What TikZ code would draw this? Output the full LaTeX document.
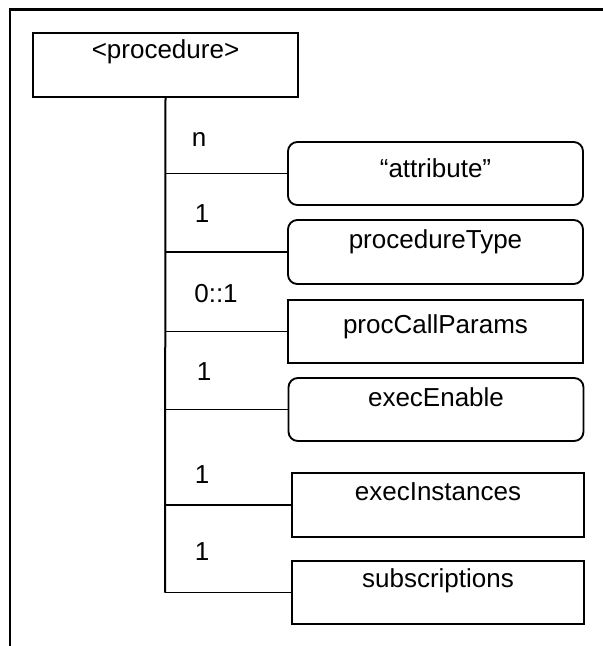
\documentclass[tikz,border=0pt]{standalone}
\usepackage{fontspec}
\setmainfont{Liberation Sans}
\begin{document}
\begin{tikzpicture}[x=0.75pt,y=-0.75pt,
  every node/.style={font=\fontsize{19.5}{23}\selectfont},
  box/.style={draw, line width=1.4pt, inner sep=0pt, minimum width=#1*0.75pt},
  box/.default=295,
  rbox/.style={box, rounded corners=7pt},
  boxtext/.style={anchor=base, inner sep=0pt},
  card/.style={inner sep=0pt, anchor=base},
  conn/.style={line width=1.1pt},
  trunkline/.style={line width=1.5pt},
  frameline/.style={line width=1.6pt}]
\useasboundingbox (0,0) rectangle (603,646);
% outer frame (partial)
\coordinate (fTL) at (10,9.5);
\coordinate (fTR) at (603,9.5);
\coordinate (fBL) at (10,646);
\draw[frameline] (fTR) -- (fTL) -- (fBL);
% boxes
\node[box=265, minimum height=64*0.75pt] (proc) at (165.5,65) {};
\node[boxtext] at (165.5,58) {<procedure>};
\node[rbox, minimum height=63*0.75pt] (att) at (435.5,173.5) {};
\node[boxtext] at (435.5,177) {“attribute”};
\node[rbox, minimum height=64*0.75pt] (ptype) at (435.5,252) {};
\node[boxtext] at (435.5,248) {procedureType};
\node[box, minimum height=63*0.75pt] (pcp) at (435.5,331.5) {};
\node[boxtext] at (435.5,333) {procCallParams};
\node[rbox=296, minimum height=63*0.75pt] (ee) at (436,409.5) {};
\node[boxtext] at (436,406) {execEnable};
\node[box=292, minimum height=64*0.75pt] (ei) at (438,505) {};
\node[boxtext] at (438,500) {execInstances};
\node[box=292, minimum height=63*0.75pt] (sub) at (438,592.5) {};
\node[boxtext] at (438,587) {subscriptions};
% trunk
\coordinate (tend) at (165,592.5);
\draw[trunkline] (proc.south) -- (tend);
% branches
\draw[conn] (proc.south |- att.west) -- (att.west);
\draw[conn] (proc.south |- ptype.west) -- (ptype.west);
\draw[conn] (proc.south |- pcp.west) -- (pcp.west);
\draw[conn] (proc.south |- ee.west) -- (ee.west);
\draw[conn] (proc.south |- ei.west) -- (ei.west);
\draw[conn] (tend) -- (sub.west);
% cardinalities
\node[card] (c1) at (199,146) {n};
\node[card] (c2) at (202,222) {1};
\node[card] (c3) at (216,302) {0::1};
\node[card] (c4) at (204,380) {1};
\node[card] (c5) at (202,483) {1};
\node[card] (c6) at (202,560) {1};
\end{tikzpicture}
\end{document}
